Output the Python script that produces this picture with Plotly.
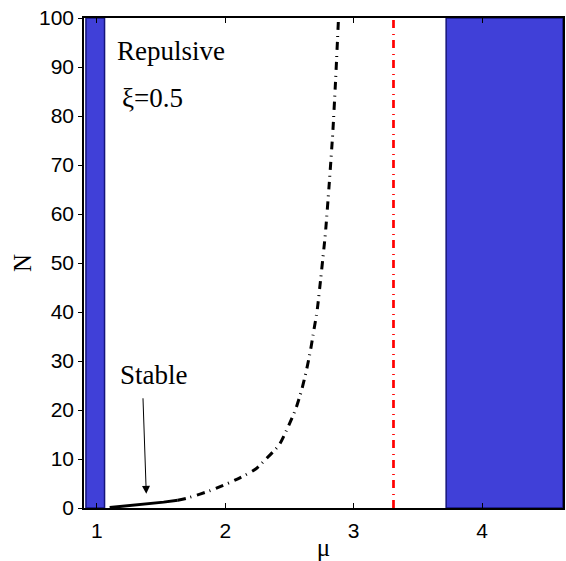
import plotly.graph_objects as go

# ---- data ----
stable_mu = [1.10, 1.25, 1.40, 1.52, 1.63]
stable_N = [0.1, 0.45, 0.85, 1.2, 1.6]

unstable_mu = [1.63, 1.70, 1.90, 2.11, 2.24, 2.31, 2.42, 2.49, 2.55, 2.595,
               2.633, 2.664, 2.69, 2.716, 2.742, 2.767, 2.78, 2.81, 2.837,
               2.858, 2.882]
unstable_N = [1.6, 2.0, 3.7, 6.1, 8.0, 9.8, 12.9, 16.6, 20.3, 24.1,
              28.2, 32.2, 36.3, 40.4, 46.5, 52.7, 56.1, 66.3, 76.5,
              86.7, 100.0]

red_mu = [3.31, 3.31]
red_N = [0, 100]

band_left_mu = [0.915, 1.06]
band_right_mu = [3.72, 4.63]
band_N = [0, 100]

x_ticks = [1, 2, 3, 4]
y_ticks = [0, 10, 20, 30, 40, 50, 60, 70, 80, 90, 100]

BLUE = "#4040D8"
EDGE = "#15157a"
SERIF = "Liberation Serif, Times New Roman, serif"
SANS = "Liberation Sans, Arial, sans-serif"
DASH = "8px,5px,1px,6px"

fig = go.Figure()

for band in (band_left_mu, band_right_mu):
    fig.add_trace(go.Scatter(
        x=[band[0], band[1], band[1], band[0], band[0]],
        y=[band_N[0], band_N[0], band_N[1], band_N[1], band_N[0]],
        mode="lines", fill="toself", fillcolor=BLUE,
        line=dict(color=EDGE, width=1.5), hoverinfo="skip", showlegend=False))

fig.add_trace(go.Scatter(x=unstable_mu, y=unstable_N, mode="lines",
                         line=dict(color="black", width=3, dash=DASH,
                                   shape="spline", smoothing=0.6),
                         showlegend=False))
fig.add_trace(go.Scatter(x=stable_mu, y=stable_N, mode="lines",
                         line=dict(color="black", width=3), showlegend=False))
fig.add_trace(go.Scatter(x=red_mu, y=red_N, mode="lines",
                         line=dict(color="red", width=2.7, dash=DASH),
                         showlegend=False))

fig.add_annotation(x=1.385, y=2.9, ax=1.359, ay=22.7, xref="x", yref="y",
                   axref="x", ayref="y", text="", showarrow=True,
                   arrowhead=2, arrowsize=1.6, arrowwidth=1, arrowcolor="black")
fig.add_annotation(x=1.445, y=27.2, xref="x", yref="y", text="Stable",
                   showarrow=False, font=dict(family=SERIF, size=27, color="black"))
fig.add_annotation(x=1.58, y=93.3, xref="x", yref="y", text="Repulsive",
                   showarrow=False, font=dict(family=SERIF, size=27, color="black"))
fig.add_annotation(x=1.43, y=83.7, xref="x", yref="y", text="ξ=0.5",
                   showarrow=False, font=dict(family=SERIF, size=27, color="black"))

fig.update_layout(
    width=566, height=561,
    margin=dict(l=84, r=1, t=18, b=53),
    paper_bgcolor="white", plot_bgcolor="white",
    xaxis=dict(range=[0.9, 4.63], tickvals=x_ticks, ticks="inside", ticklen=5,
               tickcolor="black", showgrid=False, zeroline=False,
               showline=True, linecolor="black", linewidth=1.5, mirror="ticks",
               tickfont=dict(family=SANS, size=21, color="black"),
               ticklabelstandoff=3,
               title=dict(text="μ", font=dict(family=SERIF, size=25, color="black"),
                          standoff=0)),
    yaxis=dict(range=[0, 100], tickvals=y_ticks, ticks="outside", ticklen=4,
               tickcolor="black", showgrid=False, zeroline=False,
               showline=True, linecolor="black", linewidth=1.5, mirror=True,
               tickfont=dict(family=SANS, size=21, color="black"),
               title=dict(text="N", font=dict(family=SERIF, size=25, color="black"),
                          standoff=0)),
)

fig.write_html("out.html")
